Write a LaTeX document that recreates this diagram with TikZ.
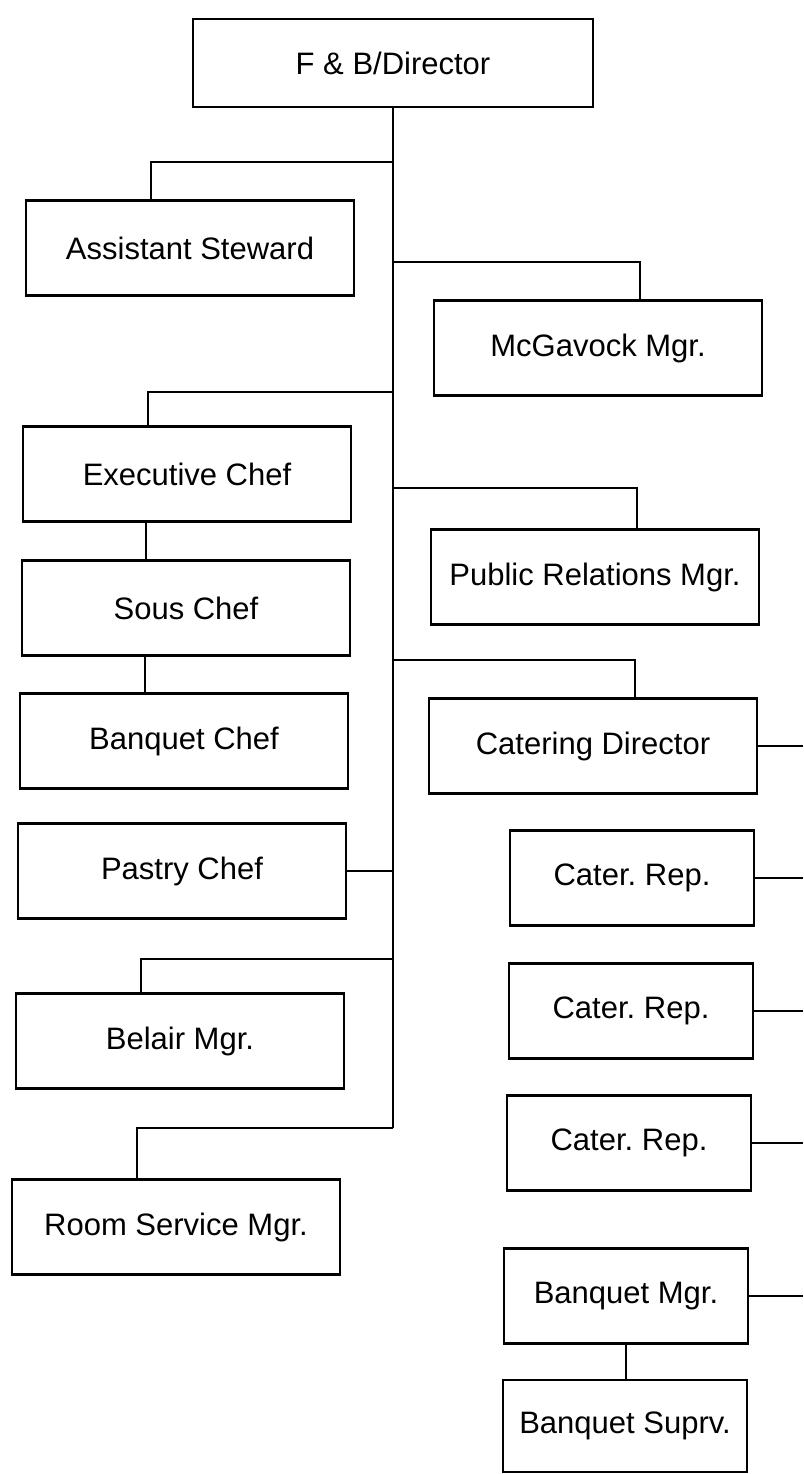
\documentclass[tikz,border=0pt]{standalone}
\usepackage{fontspec}
\setmainfont{Liberation Sans}
\frenchspacing

\begin{document}
\begin{tikzpicture}[
  x=1pt, y=-1pt,
  box/.style={draw, line width=2.6pt, minimum width=328pt, minimum height=95pt,
    inner sep=0pt, align=center, font=\fontsize{31}{37}\selectfont},
  repbox/.style={box, minimum width=244pt},
  link/.style={line width=2pt},
]
\useasboundingbox (0,0) rectangle (803,1474);

\node[box, minimum width=400pt, minimum height=88pt] (fbd) at (393,63) {F \& B/Director};
\node[box] (ast) at (190,248) {Assistant Steward};
\node[box] (mcg) at (598,348) {McGavock Mgr.};
\node[box] (exc) at (187,474) {Executive Chef};
\node[box] (sou) at (186,608) {Sous Chef};
\node[box] (prm) at (595,577) {Public Relations Mgr.};
\node[box] (bqc) at (184,741) {Banquet Chef};
\node[box] (cat) at (593,746) {Catering Director};
\node[box] (pas) at (182,871) {Pastry Chef};
\node[repbox] (cr1) at (632,878) {Cater. Rep.};
\node[box] (bel) at (180,1041) {Belair Mgr.};
\node[repbox] (cr2) at (631,1011) {Cater. Rep.};
\node[repbox] (cr3) at (629,1143) {Cater. Rep.};
\node[box] (rsm) at (176,1227) {Room Service Mgr.};
\node[repbox] (bqm) at (626,1296) {Banquet Mgr.};
\node[repbox, minimum height=92pt] (bqs) at (625,1426) {Banquet Suprv.};

\foreach \n/\y in {ast/162, mcg/262, exc/392, prm/488, cat/660, bel/959, rsm/1128}
  \coordinate (j-\n) at (393,\y);
\coordinate (edge) at (803,0);

\draw[link] (fbd.south) -- (j-rsm);
\foreach \n in {ast, exc, bel, rsm}
  \draw[link] (j-\n) -| ([xshift=-39pt]\n.north);
\foreach \n in {mcg, prm, cat}
  \draw[link] (j-\n) -| ([xshift=42pt]\n.north);
\draw[link] ([xshift=-41pt]exc.south) -- ([xshift=-41pt]exc.south |- sou.north);
\draw[link] ([xshift=-41pt]sou.south) -- ([xshift=-41pt]sou.south |- bqc.north);
\draw[link] (pas.east) -- (pas.east -| j-rsm);
\draw[link] (bqm.south) -- (bqm.south |- bqs.north);
\foreach \n in {cat, cr1, cr2, cr3, bqm}
  \draw[link] (\n.east) -- (\n.east -| edge);
\end{tikzpicture}
\end{document}
